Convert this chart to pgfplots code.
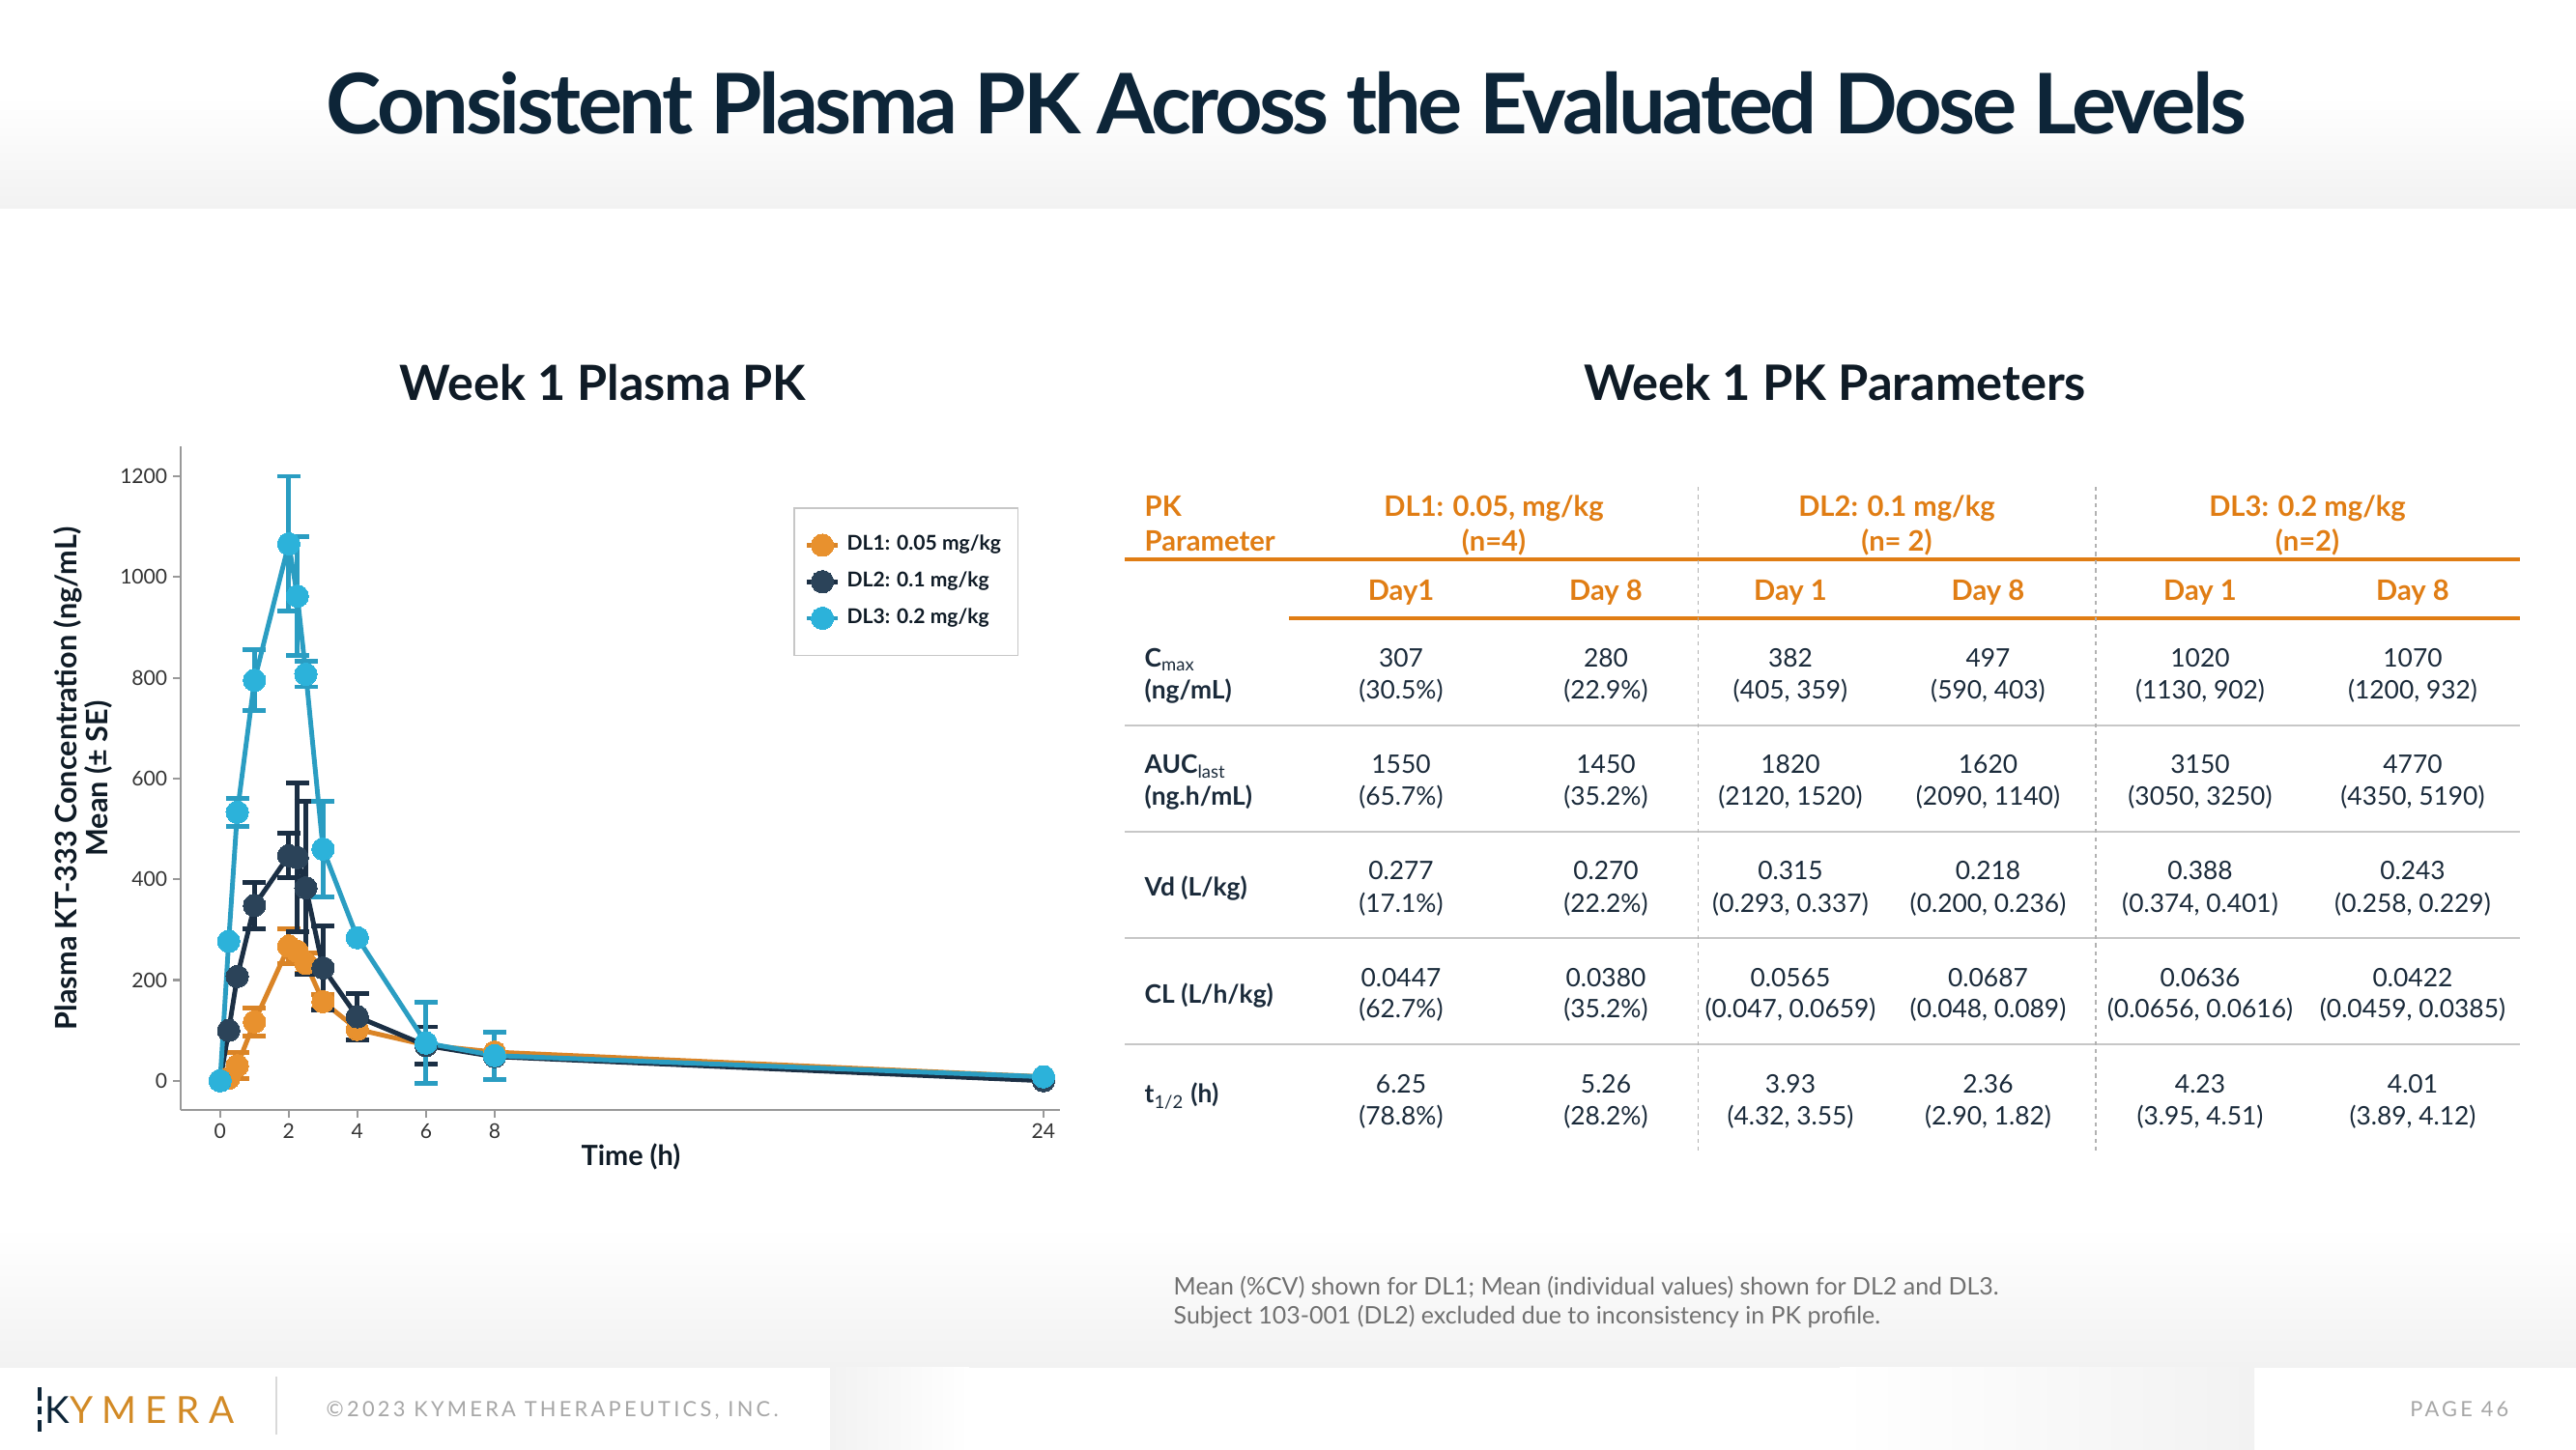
\documentclass[border=0pt]{standalone}
\usepackage{pgfplots}
\pgfplotsset{compat=1.18}
\usepackage{pgfplotstable}
\usepackage{fontspec}
\setmainfont{Lato}
\definecolor{navyT}{HTML}{0D2538}
\definecolor{ink}{HTML}{0F1B26}
\definecolor{orng}{HTML}{E07D14}
\definecolor{bodyc}{HTML}{1A2A3A}
\definecolor{dlOneL}{HTML}{DA8426}
\definecolor{dlOneM}{HTML}{E8912E}
\definecolor{dlTwoL}{HTML}{1B2F44}
\definecolor{dlTwoM}{HTML}{2B4359}
\definecolor{dlThrL}{HTML}{2A9DC2}
\definecolor{dlThrM}{HTML}{2CB2DA}
\definecolor{gline}{HTML}{C7C7C7}
\definecolor{footc}{HTML}{707070}
\definecolor{logoor}{HTML}{D28A26}
\definecolor{bggray}{HTML}{F2F2F2}

\pgfplotstableread{
x y
0 0
0.25 5
0.5 30
1 117
2 267
2.25 257
2.5 233
3 157
4 102
6 71
8 57
24 8
}\dlone
\pgfplotstableread{
x y e
0.5 30 26
1 117 28
2 267 35
2.5 233 20
3 157 15
4 102 20
}\dloneerr
\pgfplotstableread{
x y
0 0
0.25 100
0.5 207
1 348
2 447
2.25 443
2.5 383
3 224
4 127
6 70
8 48
24 0
}\dltwo
\pgfplotstableread{
x y e
1 348 46
2 447 44
2.25 443 148
2.5 383 172
3 224 84
4 127 46
6 70 37
}\dltwoerr
\pgfplotstableread{
x y
0 0
0.25 277
0.5 533
1 795
2 1066
2.25 962
2.5 807
3 460
4 284
6 75
8 50
24 8
}\dlthree
\pgfplotstableread{
x y e
0.5 533 28
1 795 60
2 1066 134
2.25 962 118
2.5 807 25
3 460 95
6 75 80
8 50 47
}\dlthreeerr

\newcommand\tbody{\fontsize{7.5}{9}\selectfont}
\newcommand\thead{\bfseries\fontsize{8.3}{9.5}\selectfont}

\begin{document}
\begin{tikzpicture}[x=1cm,y=1cm]
\path[use as bounding box] (0,0) rectangle (26.66,15);
% header band
\shade[top color=white, bottom color=bggray] (0,12.84) rectangle (26.66,14.0);
% footer band
\shade[top color=white, bottom color=bggray] (0,0.85) rectangle (26.66,2.3);
\shade[left color=bggray, right color=white] (8.59,0) rectangle (10.03,0.85);
\shade[left color=white, right color=bggray] (19.04,0) rectangle (23.33,0.85);

% title
\node[anchor=base, font=\bfseries\fontsize{24.6}{28}\selectfont\addfontfeatures{LetterSpace=-4}, text=navyT] at (13.31,13.61) {Consistent Plasma PK Across the Evaluated Dose Levels};
\node[anchor=base, font=\bfseries\fontsize{14.3}{16}\selectfont, text=ink] at (6.24,10.85) {Week 1 Plasma PK};
\node[anchor=base, font=\bfseries\fontsize{14.4}{16}\selectfont, text=ink] at (18.99,10.85) {Week 1 PK Parameters};

% plot
\begin{axis}[
  at={(1.87cm,3.506cm)}, anchor=south west,
  scale only axis, width=9.10cm, height=6.87cm,
  xmin=-1.15, xmax=24.48, ymin=-58.7, ymax=1258.7,
  clip=false,
  axis x line*=bottom, axis y line*=left,
  axis line style={-, draw=black!40, line width=0.6pt},
  xtick={0,2,4,6,8,24}, ytick={0,200,...,1200},
  tick align=outside, major tick length=2.2pt,
  tick style={draw=black!40, line width=0.6pt},
  ticklabel style={font=\fontsize{6}{7}\selectfont, text=black!80},
  yticklabel style={xshift=1.8pt},
  xticklabel style={yshift=1.8pt},
  /pgf/number format/assume math mode=true,
  /pgf/number format/set thousands separator={},
  xlabel={Time (h)},
  xlabel style={at={(axis description cs:0.512,-0.07)}, anchor=center, font=\bfseries\fontsize{8.2}{10}\selectfont, text=ink},
  ylabel={Plasma KT-333 Concentration (ng/mL)\\Mean (± SE)},
  ylabel style={at={(axis description cs:-0.111,0.5)}, anchor=center, align=center, font=\bfseries\fontsize{8.7}{9.3}\selectfont, text=ink},
  legend style={at={(axis description cs:0.697,0.909)}, anchor=north west, draw=black!22, line width=0.5pt, fill=white, font=\bfseries\fontsize{6}{7}\selectfont, text=ink, row sep=0.8pt, inner xsep=3pt, inner ysep=6pt, cells={anchor=west}},
  legend image code/.code={\draw[mark repeat=2,mark phase=2,#1] plot coordinates {(0cm,0cm) (0.16cm,0cm) (0.32cm,0cm)};},
]
% DL1
\addplot[forget plot, draw=none, error bars/.cd, y dir=both, y explicit, error bar style={draw=dlOneL, line width=1.4pt}, error mark options={rotate=90, mark size=3.4pt, draw=dlOneL, line width=1.4pt}] table[x=x, y=y, y error=e] {\dloneerr};
\addplot[color=dlOneL, line width=1.4pt, mark=*, mark size=3.3pt, mark options={fill=dlOneM, draw=dlOneM, line width=0pt}] table[x=x, y=y] {\dlone};
\addlegendentry{DL1: 0.05 mg/kg}
% DL2
\addplot[forget plot, draw=none, error bars/.cd, y dir=both, y explicit, error bar style={draw=dlTwoL, line width=1.4pt}, error mark options={rotate=90, mark size=3.4pt, draw=dlTwoL, line width=1.4pt}] table[x=x, y=y, y error=e] {\dltwoerr};
\addplot[color=dlTwoL, line width=1.4pt, mark=*, mark size=3.3pt, mark options={fill=dlTwoM, draw=dlTwoM, line width=0pt}] table[x=x, y=y] {\dltwo};
\addlegendentry{DL2: 0.1 mg/kg}
% DL3
\addplot[forget plot, draw=none, error bars/.cd, y dir=both, y explicit, error bar style={draw=dlThrL, line width=1.4pt}, error mark options={rotate=90, mark size=3.4pt, draw=dlThrL, line width=1.4pt}] table[x=x, y=y, y error=e] {\dlthreeerr};
\addplot[color=dlThrL, line width=1.4pt, mark=*, mark size=3.3pt, mark options={fill=dlThrM, draw=dlThrM, line width=0pt}] table[x=x, y=y] {\dlthree};
\addlegendentry{DL3: 0.2 mg/kg}
\end{axis}

% table rules
\draw[orng, line width=1pt] (11.64,9.21) -- (26.08,9.21);
\draw[orng, line width=1pt] (13.34,8.60) -- (26.08,8.60);
\foreach \yy in {7.49,6.39,5.29,4.19} \draw[gline, line width=0.8pt] (11.64,\yy) -- (26.08,\yy);
\foreach \xx in {17.575,21.69} \draw[black!30, line width=0.4pt, dash pattern=on 1.2pt off 1.2pt] (\xx,9.96) -- (\xx,3.08);

% table header
\begin{scope}[every node/.style={anchor=base, font=\thead, text=orng, inner sep=0pt}]
\node[anchor=base west] at (11.84,9.65) {PK};
\node[anchor=base west] at (11.84,9.293) {Parameter};
\node at (15.46,9.65) {DL1: 0.05, mg/kg};
\node at (15.46,9.293) {(n=4)};
\node at (19.63,9.65) {DL2: 0.1 mg/kg};
\node at (19.63,9.293) {(n= 2)};
\node at (23.88,9.65) {DL3: 0.2 mg/kg};
\node at (23.88,9.293) {(n=2)};
\node at (14.50,8.783) {Day1};
\node at (16.62,8.783) {Day 8};
\node at (18.53,8.783) {Day 1};
\node at (20.575,8.783) {Day 8};
\node at (22.77,8.783) {Day 1};
\node at (24.97,8.783) {Day 8};
\end{scope}

% row labels
\begin{scope}[every node/.style={anchor=base west, font=\bfseries\tbody, text=bodyc, inner sep=0pt}]
\node at (11.84,8.093) {C\textsubscript{\mdseries max}};
\node at (11.84,7.76) {(ng/mL)};
\node at (11.84,6.993) {AUC\textsubscript{\mdseries last}};
\node at (11.84,6.66) {(ng.h/mL)};
\node at (11.84,5.72) {Vd (L/kg)};
\node at (11.84,4.62) {CL (L/h/kg)};
\node at (11.84,3.58) {t\textsubscript{\mdseries 1/2} (h)};
\end{scope}

% table body
\begin{scope}[every node/.style={anchor=base, font=\tbody, text=bodyc, inner sep=0pt}]
% Cmax
\node at (14.50,8.093) {307};        \node at (14.50,7.76) {(30.5\%)};
\node at (16.62,8.093) {280};        \node at (16.62,7.76) {(22.9\%)};
\node at (18.53,8.093) {382};        \node at (18.53,7.76) {(405, 359)};
\node at (20.575,8.093) {497};       \node at (20.575,7.76) {(590, 403)};
\node at (22.77,8.093) {1020};       \node at (22.77,7.76) {(1130, 902)};
\node at (24.97,8.093) {1070};       \node at (24.97,7.76) {(1200, 932)};
% AUC
\node at (14.50,6.993) {1550};       \node at (14.50,6.66) {(65.7\%)};
\node at (16.62,6.993) {1450};       \node at (16.62,6.66) {(35.2\%)};
\node at (18.53,6.993) {1820};       \node at (18.53,6.66) {(2120, 1520)};
\node at (20.575,6.993) {1620};      \node at (20.575,6.66) {(2090, 1140)};
\node at (22.77,6.993) {3150};       \node at (22.77,6.66) {(3050, 3250)};
\node at (24.97,6.993) {4770};       \node at (24.97,6.66) {(4350, 5190)};
% Vd
\node at (14.50,5.89) {0.277};       \node at (14.50,5.56) {(17.1\%)};
\node at (16.62,5.89) {0.270};       \node at (16.62,5.56) {(22.2\%)};
\node at (18.53,5.89) {0.315};       \node at (18.53,5.56) {(0.293, 0.337)};
\node at (20.575,5.89) {0.218};      \node at (20.575,5.56) {(0.200, 0.236)};
\node at (22.77,5.89) {0.388};       \node at (22.77,5.56) {(0.374, 0.401)};
\node at (24.97,5.89) {0.243};       \node at (24.97,5.56) {(0.258, 0.229)};
% CL
\node at (14.50,4.79) {0.0447};      \node at (14.50,4.46) {(62.7\%)};
\node at (16.62,4.79) {0.0380};      \node at (16.62,4.46) {(35.2\%)};
\node at (18.53,4.79) {0.0565};      \node at (18.53,4.46) {(0.047, 0.0659)};
\node at (20.575,4.79) {0.0687};     \node at (20.575,4.46) {(0.048, 0.089)};
\node at (22.77,4.79) {0.0636};      \node at (22.77,4.46) {(0.0656, 0.0616)};
\node at (24.97,4.79) {0.0422};      \node at (24.97,4.46) {(0.0459, 0.0385)};
% t1/2
\node at (14.50,3.69) {6.25};        \node at (14.50,3.36) {(78.8\%)};
\node at (16.62,3.69) {5.26};        \node at (16.62,3.36) {(28.2\%)};
\node at (18.53,3.69) {3.93};        \node at (18.53,3.36) {(4.32, 3.55)};
\node at (20.575,3.69) {2.36};       \node at (20.575,3.36) {(2.90, 1.82)};
\node at (22.77,3.69) {4.23};        \node at (22.77,3.36) {(3.95, 4.51)};
\node at (24.97,3.69) {4.01};        \node at (24.97,3.36) {(3.89, 4.12)};
\end{scope}

% footnote
\node[anchor=base west, font=\fontsize{7.1}{8}\selectfont, text=footc, inner sep=0pt] at (12.14,1.60) {Mean (\%CV) shown for DL1; Mean (individual values) shown for DL2 and DL3.};
\node[anchor=base west, font=\fontsize{7.1}{8}\selectfont, text=footc, inner sep=0pt] at (12.14,1.30) {Subject 103-001 (DL2) excluded due to inconsistency in PK profile.};

% footer
\draw[navyT, line width=1.1pt] (0.41,0.18) -- (0.41,0.30);
\draw[navyT, line width=1.1pt] (0.41,0.36) -- (0.41,0.44);
\draw[navyT, line width=1.1pt] (0.41,0.50) -- (0.41,0.64);
\node[anchor=base west, inner sep=0pt, font=\fontsize{11}{12}\selectfont\addfontfeatures{LetterSpace=24}] at (0.46,0.27) {\textcolor{navyT}{K}\textcolor{logoor}{YMERA}};
\draw[black!15, line width=0.5pt] (2.86,0.15) -- (2.86,0.75);
\node[anchor=base west, inner sep=0pt, text=black!35, font=\fontsize{6.2}{7}\selectfont\addfontfeatures{LetterSpace=15}] at (3.37,0.34) {©2023 KYMERA THERAPEUTICS, INC.};
\node[anchor=base east, inner sep=0pt, text=black!35, font=\fontsize{6.2}{7}\selectfont\addfontfeatures{LetterSpace=15}] at (25.97,0.34) {PAGE 46};
\end{tikzpicture}
\end{document}
